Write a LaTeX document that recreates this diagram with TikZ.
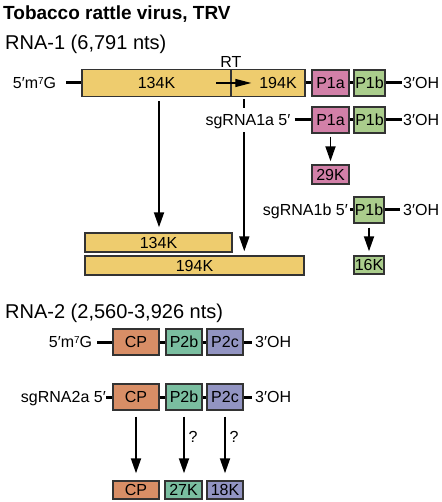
\documentclass[tikz,border=0pt]{standalone}
\usepackage{fontspec}
\setmainfont{Liberation Sans}
\usetikzlibrary{arrows.meta}
\definecolor{trvyellow}{RGB}{238,204,110}
\definecolor{trvpink}{RGB}{210,128,168}
\definecolor{trvgreen}{RGB}{170,205,140}
\definecolor{trvorange}{RGB}{216,142,102}
\definecolor{trvteal}{RGB}{122,190,160}
\definecolor{trvpurple}{RGB}{146,148,194}
\newcommand{\mcap}{5′m\raisebox{4.5pt}{\fontsize{10}{10}\selectfont 7}G}
\tikzstyle{gene} = [rectangle, draw=black!80, line width=1.4pt, minimum height=26pt, inner sep=0pt, text height=11.5pt, text depth=0pt, text centered, font=\fontsize{16}{19}\selectfont]
\tikzstyle{product} = [gene, minimum height=19pt]
\tikzstyle{tag} = [inner sep=0pt, text height=11.5pt, text depth=0pt, font=\fontsize{16}{19}\selectfont]
\tikzstyle{heading} = [inner sep=0pt, anchor=base west, font=\fontsize{20}{24}\selectfont]
\tikzstyle{rna} = [line width=3pt]
\tikzstyle{arrow} = [line width=1.8pt, -{Triangle[length=15pt,width=10pt]}]
\tikzstyle{rtarrow} = [line width=1.2pt, -{Triangle[length=16pt,width=8pt]}]

\begin{document}
\begin{tikzpicture}[x=1pt, y=-1pt]
            \useasboundingbox (0,0) rectangle (441,502);
            \node [heading, font=\fontsize{19}{23}\selectfont\bfseries] at (3,20) (title) {Tobacco rattle virus, TRV};
            % RNA-1
            \node [heading] at (5,50) (rna1) {RNA-1 (6,791 nts)};
            \node [tag] at (34.5,83) (cap1) {\mcap};
            \node [gene, fill=trvyellow, minimum width=149pt, minimum height=27pt] at (156.5,83) (g134) {134K};
            \node [gene, fill=trvyellow, minimum width=74pt, minimum height=27pt] at (268,83) (g194) {};
            \node [tag] at (278,83) (t194) {194K};
            \node [tag] at (231,62) (rt) {RT};
            \node [gene, fill=trvpink, minimum width=37pt] at (330.5,83) (p1a) {P1a};
            \node [gene, fill=trvgreen, minimum width=31pt] at (369.5,83) (p1b) {P1b};
            \node [tag, anchor=west] at (403,83) (oh1) {3′OH};
            \draw [rtarrow] ([xshift=-14pt]g194.west) -- ([xshift=21pt]g194.west);
            \draw [rna, shorten <=10pt] (cap1) -- (g134);
            \draw [rna] (g194) -- (p1a);
            \draw [rna] (p1a) -- (p1b);
            \draw [rna, shorten >=1pt] (p1b) -- (oh1);
            % products of RNA-1
            \node [gene, fill=trvyellow, minimum width=147pt, minimum height=19pt] at (158.5,242.5) (b134) {134K};
            \node [gene, fill=trvyellow, minimum width=219pt, minimum height=19pt] at (194.5,265.5) (b194) {194K};
            \draw [arrow, shorten <=4pt, shorten >=5pt] ([xshift=0.5pt]b134.north |- g134.south) -- ([xshift=0.5pt]b134.north);
            \draw [arrow, shorten <=2pt, shorten >=4pt] ([xshift=14pt]g194.south west) -- ([xshift=14pt]g194.south west |- b194.north);
            % sgRNA1a
            \node [tag, fill=white, inner ysep=6pt] at (248,120) (sg1a) {sgRNA1a 5′};
            \node [gene, fill=trvpink, minimum width=37pt] at (330.5,120) (sp1a) {P1a};
            \node [gene, fill=trvgreen, minimum width=31pt] at (369.5,120) (sp1b) {P1b};
            \node [tag, anchor=west] at (403,120) (oh2) {3′OH};
            \draw [rna, shorten <=4pt] (sg1a) -- (sp1a);
            \draw [rna] (sp1a) -- (sp1b);
            \draw [rna, shorten >=1pt] (sp1b) -- (oh2);
            \node [product, fill=trvpink, minimum width=37pt] at (330.5,174.5) (k29) {29K};
            \draw [arrow, shorten <=3pt, shorten >=3pt] (sp1a) -- (k29);
            % sgRNA1b
            \node [tag, anchor=east] at (348,210) (sg1b) {sgRNA1b 5′};
            \node [gene, fill=trvgreen, minimum width=30pt] at (369,210) (tp1b) {P1b};
            \node [tag, anchor=west] at (403,210) (oh3) {3′OH};
            \draw [rna, shorten <=2pt] (sg1b) -- (tp1b);
            \draw [rna, shorten >=3pt] (tp1b) -- (oh3);
            \node [product, fill=trvgreen, minimum width=30pt, minimum height=18pt] at (369,265) (k16) {16K};
            \draw [arrow, shorten <=4pt, shorten >=4pt] (tp1b) -- (k16);
            % RNA-2
            \node [heading] at (5,318) (rna2) {RNA-2 (2,560-3,926 nts)};
            \node [tag] at (70.5,342) (cap2) {\mcap};
            \node [gene, fill=trvorange, minimum width=46pt] at (136,342) (cp) {CP};
            \node [gene, fill=trvteal, minimum width=36pt] at (184,342) (p2b) {P2b};
            \node [gene, fill=trvpurple, minimum width=36pt] at (225,342) (p2c) {P2c};
            \node [tag, anchor=west] at (255,342) (oh4) {3′OH};
            \draw [rna, shorten <=5pt] (cap2) -- (cp);
            \draw [rna] (cp) -- (p2b);
            \draw [rna] (p2b) -- (p2c);
            \draw [rna, shorten >=3pt] (p2c) -- (oh4);
            % sgRNA2a
            \node [tag, anchor=east] at (106,397) (sg2a) {sgRNA2a 5′};
            \node [gene, fill=trvorange, minimum width=46pt] at (136,397) (scp) {CP};
            \node [gene, fill=trvteal, minimum width=36pt] at (184,397) (sp2b) {P2b};
            \node [gene, fill=trvpurple, minimum width=36pt] at (225,397) (sp2c) {P2c};
            \node [tag, anchor=west] at (255,397) (oh5) {3′OH};
            \draw [rna] (sg2a) -- (scp);
            \draw [rna] (scp) -- (sp2b);
            \draw [rna] (sp2b) -- (sp2c);
            \draw [rna, shorten >=3pt] (sp2c) -- (oh5);
            % products of RNA-2
            \node [product, fill=trvorange, minimum width=46pt, minimum height=18pt] at (136,490) (pcp) {CP};
            \node [product, fill=trvteal, minimum width=37pt, minimum height=18pt] at (183.5,490) (k27) {27K};
            \node [product, fill=trvpurple, minimum width=36pt, minimum height=18pt] at (225,490) (k18) {18K};
            \draw [arrow, shorten <=6pt, shorten >=7pt] (scp) -- (pcp);
            \draw [arrow, shorten <=6pt, shorten >=7pt] (sp2b.south) -- (sp2b.south |- k27.north);
            \draw [arrow, shorten <=6pt, shorten >=7pt] (sp2c) -- (k18);
            \node [tag] at (193,437) (q27) {?};
            \node [tag] at (234,437) (q18) {?};
            \end{tikzpicture}
\end{document}
